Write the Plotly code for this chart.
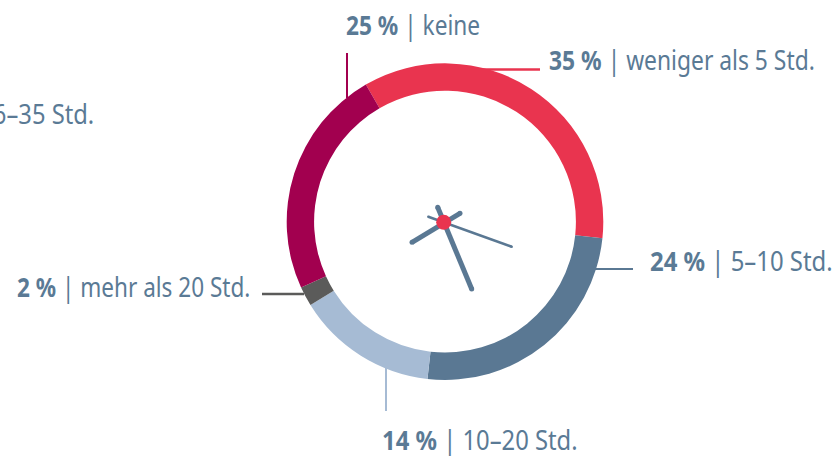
import json
import plotly.graph_objects as go

W = 835
H = 456

# slice sizes as drawn in the ring (the printed percentages are in pct_labels)
categories = ["weniger als 5 Std.", "5–10 Std.", "10–20 Std.", "mehr als 20 Std.", "keine"]
slice_values = [35, 25.1, 14.4, 2, 23.5]
pct_labels = ["35 %", "24 %", "14 %", "2 %", "25 %"]
colors = ["#e9344f", "#5a7893", "#a6bbd4", "#5b5b5a", "#a2004f"]

text_color = "#5a7a95"
font_name = "Noto Sans"

# label left edge / vertical centre, in page pixels
label_x = [547, 648, 380, 15, 344]
label_y = [59, 260, 439, 286, 24]
# horizontal squeeze per label, last one is the cut off label
label_squeeze = [0.846, 0.885, 0.882, 0.835, 0.84, 0.88]

# leader lines
leader_x = [[483, 540], [595, 633], [386, 386], [262, 304], [347, 347]]
leader_y = [[69.5, 69.5], [269, 269], [365, 411], [294, 294], [53, 98]]
leader_w = [2.5, 2, 2, 2.5, 2]

# clock hands
hand_x = [[437.7, 471.7], [460, 412], [428.3, 511.7]]
hand_y = [[207.3, 289], [213.3, 242.3], [216.7, 246.7]]
hand_w = [5, 5, 2.5]
hand_color = "#5a7893"

fig = go.Figure()

for xs, ys, w, c in zip(leader_x, leader_y, leader_w, colors):
    fig.add_trace(go.Scatter(x=xs, y=ys, mode="lines", line=dict(color=c, width=w),
                             hoverinfo="skip", showlegend=False))

for xs, ys, w in zip(hand_x, hand_y, hand_w):
    fig.add_trace(go.Scatter(x=xs, y=ys, mode="lines+markers",
                             line=dict(color=hand_color, width=w),
                             marker=dict(color=hand_color, size=w),
                             hoverinfo="skip", showlegend=False))

fig.add_trace(go.Scatter(x=[443.7], y=[222.3], mode="markers",
                         marker=dict(color=colors[0], size=15),
                         hoverinfo="skip", showlegend=False))

fig.add_trace(go.Pie(
    labels=categories,
    values=slice_values,
    marker=dict(colors=colors),
    hole=0.827,
    sort=False,
    direction="clockwise",
    rotation=-30,
    textinfo="none",
    hoverinfo="skip",
    showlegend=False,
    domain=dict(x=[286.7 / W, 603.3 / W], y=[76 / H, 392.7 / H]),
))

for pct, cat, x, y in zip(pct_labels, categories, label_x, label_y):
    fig.add_annotation(x=x, y=y, xref="x", yref="y", xanchor="left", yanchor="middle",
                       text="<b>" + pct + "</b> | " + cat, showarrow=False,
                       font=dict(family=font_name, size=27, color=text_color))

# label cut off by the left edge of the page
fig.add_annotation(x=96, y=113, xref="x", yref="y", xanchor="right", yanchor="middle",
                   text="6–35 Std.", showarrow=False,
                   font=dict(family=font_name, size=27, color=text_color))

fig.update_layout(
    width=W,
    height=H,
    margin=dict(l=0, r=0, t=0, b=0),
    paper_bgcolor="white",
    plot_bgcolor="white",
    xaxis=dict(range=[0, W], visible=False, fixedrange=True),
    yaxis=dict(range=[H, 0], visible=False, fixedrange=True),
)

# no page margin, and squeeze the labels since no condensed font is installed
squeeze = """
document.body.style.margin = '0';
var scales = %s;
document.querySelectorAll('.annotation-text').forEach(function (t, i) {
  var b = t.getBBox();
  var p = t.textContent.indexOf('|') < 0 ? b.x + b.width : b.x;
  t.setAttribute('transform', 'translate(' + p + ',0) scale(' + scales[i] + ',1) translate(' + (-p) + ',0)');
});
""" % json.dumps(label_squeeze)
fig.write_html("out.html", post_script=squeeze, config=dict(displayModeBar=False))
